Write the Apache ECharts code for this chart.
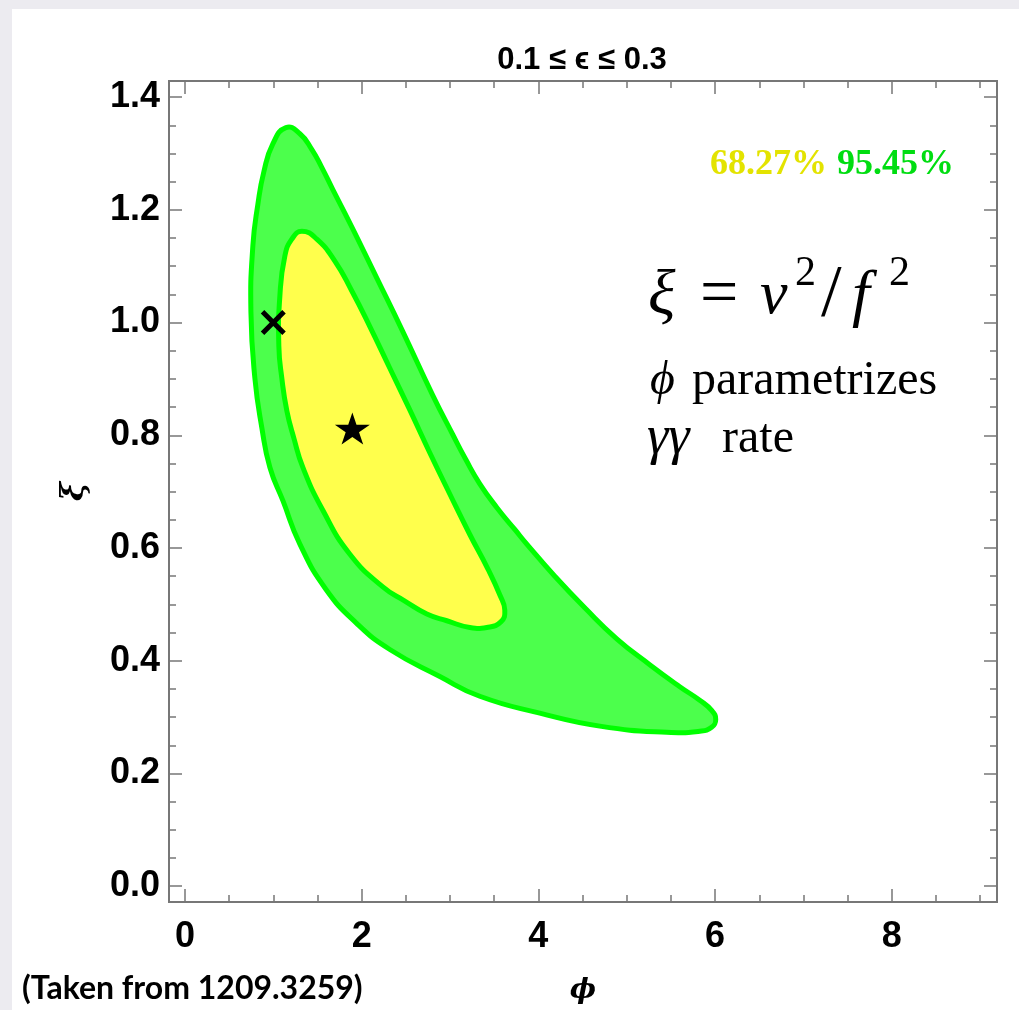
<!DOCTYPE html>
<html>
<head>
<meta charset="utf-8">
<script src="https://cdn.jsdelivr.net/npm/echarts@6/dist/echarts.min.js"></script>
<style>
html,body{margin:0;padding:0;background:#ecebf0;}
#chart{position:absolute;left:0;top:0;width:1019px;height:1010px;}
</style>
</head>
<body>
<div id="chart"></div>
<script>
// ---- data ----
const xMajorTicks = [0, 2, 4, 6, 8];
const xMinorTicks = [0, 0.5, 1, 1.5, 2, 2.5, 3, 3.5, 4, 4.5, 5, 5.5, 6, 6.5, 7, 7.5, 8, 8.5, 9];
const yMajorTicks = [0, 0.2, 0.4, 0.6, 0.8, 1.0, 1.2, 1.4];
const yMinorTicks = [0, 0.05, 0.1, 0.15, 0.2, 0.25, 0.3, 0.35, 0.4, 0.45, 0.5, 0.55, 0.6, 0.65, 0.7,
                     0.75, 0.8, 0.85, 0.9, 0.95, 1.0, 1.05, 1.1, 1.15, 1.2, 1.25, 1.3, 1.35, 1.4];

// 95.45% contour (phi, xi)
const contour95 = [
  [1.143, 1.346], [1.301, 1.335], [1.437, 1.307], [1.550, 1.275], [1.674, 1.236], [1.810, 1.194],
  [1.957, 1.148], [2.172, 1.079], [2.466, 0.984], [2.805, 0.871], [3.032, 0.801], [3.179, 0.757],
  [3.337, 0.714], [3.529, 0.672], [3.733, 0.633], [3.869, 0.607], [4.186, 0.550], [4.525, 0.494],
  [4.887, 0.439], [5.260, 0.393], [5.600, 0.354], [5.826, 0.330], [5.961, 0.312], [6.007, 0.296],
  [5.961, 0.282], [5.826, 0.275], [5.452, 0.273], [4.695, 0.284], [4.016, 0.307], [3.337, 0.337],
  [2.885, 0.372], [2.319, 0.420], [1.946, 0.466], [1.595, 0.527], [1.301, 0.607], [1.109, 0.684],
  [0.962, 0.743], [0.871, 0.813], [0.792, 0.901], [0.747, 1.019], [0.769, 1.136], [0.826, 1.210],
  [0.894, 1.268], [0.995, 1.317]
];
// 68.27% contour (phi, xi)
const contour68 = [
  [1.324, 1.162], [1.493, 1.148], [1.697, 1.109], [1.889, 1.056], [2.093, 0.993], [2.319, 0.919],
  [2.545, 0.845], [2.771, 0.769], [3.000, 0.695], [3.224, 0.624], [3.428, 0.563], [3.563, 0.517],
  [3.620, 0.490], [3.575, 0.469], [3.416, 0.459], [3.224, 0.459], [2.964, 0.471], [2.738, 0.483],
  [2.489, 0.506], [2.240, 0.531], [1.867, 0.589], [1.561, 0.667], [1.335, 0.743], [1.233, 0.795],
  [1.154, 0.843], [1.097, 0.901], [1.063, 0.959], [1.075, 1.048], [1.131, 1.118], [1.210, 1.148]
];
const smPoint = [[1.0, 1.0]];
const bestFit = [[1.895, 0.812]];

const titleText = '0.1 \u2264 \u03F5 \u2264 0.3';
const legend68 = '68.27%';
const legend95 = '95.45%';
const sourceNote = '(Taken from 1209.3259)';

// ---- chart ----
const X_MIN = -0.18, X_MAX = 9.19, Y_MIN = -0.028, Y_MAX = 1.4286;
const AXIS_COLOR = '#777777';
const labelFont = { fontFamily: 'Liberation Sans', fontWeight: 'bold', fontSize: 36, color: '#000' };

function xAxisDef(pos, ticks, len, withLabel) {
  return {
    type: 'value', position: pos, min: X_MIN, max: X_MAX,
    axisLine: { show: true, onZero: false, lineStyle: { color: AXIS_COLOR, width: 2 } },
    axisTick: { show: true, inside: true, length: len, customValues: ticks,
                lineStyle: { color: AXIS_COLOR, width: 1.5 } },
    axisLabel: withLabel ? Object.assign({ show: true, customValues: xMajorTicks, margin: 17,
                formatter: v => String(Math.round(v)) }, labelFont) : { show: false },
    splitLine: { show: false },
    name: withLabel ? '\u03D5' : '',
    nameLocation: 'middle', nameGap: 75,
    nameTextStyle: { fontFamily: 'DejaVu Serif', fontStyle: 'italic', fontWeight: 'bold', fontSize: 28, color: '#000' }
  };
}
function yAxisDef(pos, ticks, len, withLabel) {
  return {
    type: 'value', position: pos, min: Y_MIN, max: Y_MAX,
    axisLine: { show: true, onZero: false, lineStyle: { color: AXIS_COLOR, width: 2 } },
    axisTick: { show: true, inside: true, length: len, customValues: ticks,
                lineStyle: { color: AXIS_COLOR, width: 1.5 } },
    axisLabel: withLabel ? Object.assign({ show: true, customValues: yMajorTicks, margin: 9,
                formatter: v => v.toFixed(1) }, labelFont) : { show: false },
    splitLine: { show: false },
    name: withLabel ? '\u03BE' : '',
    nameLocation: 'middle', nameGap: 78, nameRotate: 90,
    nameTextStyle: { fontFamily: 'DejaVu Serif', fontStyle: 'italic', fontWeight: 'bold', fontSize: 32, color: '#000' }
  };
}

function polygonRenderer(pts, fill) {
  return function (params, api) {
    if (params.dataIndex !== 0) return null;
    const points = pts.map(p => api.coord(p));
    return {
      type: 'polygon',
      shape: { points: points, smooth: 0.5 },
      style: { fill: fill, stroke: '#00ff00', lineWidth: 5, lineJoin: 'round' }
    };
  };
}

const X_PATH = 'path://M14,0 L50,36 L86,0 L100,14 L64,50 L100,86 L86,100 L50,64 L14,100 L0,86 L36,50 L0,14 Z';
const STAR_PATH = 'path://M100,0 L122.45,69.1 L195.1,69.1 L136.3,111.8 L158.8,180.9 L100,138.2 L41.2,180.9 L63.7,111.8 L4.9,69.1 L77.55,69.1 Z';

function txt(x, y, text, font, fill) {
  return { type: 'text', x: x, y: y, style: { text: text, font: font, fill: fill || '#000', textAlign: 'left', textVerticalAlign: 'middle' } };
}

const chart = echarts.init(document.getElementById('chart'), null, { renderer: 'canvas' });
chart.setOption({
  backgroundColor: 'transparent',
  animation: false,
  grid: { left: 169, right: 22, top: 81, bottom: 103, containLabel: false },
  xAxis: [
    xAxisDef('bottom', xMajorTicks, 13, true),
    xAxisDef('bottom', xMinorTicks, 7, false),
    xAxisDef('top', xMajorTicks, 13, false),
    xAxisDef('top', xMinorTicks, 7, false)
  ],
  yAxis: [
    yAxisDef('left', yMajorTicks, 13, true),
    yAxisDef('left', yMinorTicks, 7, false),
    yAxisDef('right', yMajorTicks, 13, false),
    yAxisDef('right', yMinorTicks, 7, false)
  ],
  graphic: [
    { type: 'rect', z: -10, silent: true, shape: { x: 12, y: 9, width: 1019, height: 1010 }, style: { fill: '#ffffff' } },
    { type: 'text', x: 582, y: 60, style: { text: titleText, font: 'bold 31px "Liberation Sans"', fill: '#000', textAlign: 'center', textVerticalAlign: 'middle' } },
    txt(710, 165, legend68, 'bold 36px "Liberation Serif"', '#e3e300'),
    txt(837, 165, legend95, 'bold 36px "Liberation Serif"', '#00dd11'),
    // xi = v^2 / f^2
    txt(648, 297, '\u03BE', 'italic 64px "Liberation Serif"'),
    txt(700, 296, '=', '68px "Liberation Serif"'),
    txt(760, 297, 'v', 'italic 62px "Liberation Serif"'),
    txt(795, 274, '2', '42px "Liberation Serif"'),
    txt(821, 297, '/', '74px "Liberation Serif"'),
    txt(852, 297, 'f', 'italic 64px "Liberation Serif"'),
    txt(889, 274, '2', '42px "Liberation Serif"'),
    // phi parametrizes
    txt(650, 381, '\u03D5', 'italic 48px "Liberation Serif"'),
    txt(692, 381, 'parametrizes', '48px "Liberation Serif"'),
    // gamma gamma rate
    txt(647, 439, '\u03B3\u03B3', 'italic 54px "Liberation Serif"'),
    txt(722, 439, 'rate', '48px "Liberation Serif"'),
    // source note
    txt(22, 989, sourceNote, 'bold 32px Lato')
  ],
  series: [
    { type: 'custom', name: '95.45%', xAxisIndex: 0, yAxisIndex: 0, data: contour95, clip: false,
      renderItem: polygonRenderer(contour95, '#4cff4c'), z: 2 },
    { type: 'custom', name: '68.27%', xAxisIndex: 0, yAxisIndex: 0, data: contour68, clip: false,
      renderItem: polygonRenderer(contour68, '#ffff4c'), z: 3 },
    { type: 'scatter', name: 'SM', xAxisIndex: 0, yAxisIndex: 0, data: smPoint, symbol: X_PATH,
      symbolSize: [25, 25], itemStyle: { color: '#000', opacity: 1 }, z: 5 },
    { type: 'scatter', name: 'best fit', xAxisIndex: 0, yAxisIndex: 0, data: bestFit, symbol: STAR_PATH,
      symbolSize: [35, 32], itemStyle: { color: '#000', opacity: 1 }, z: 5 }
  ]
});
</script>
</body>
</html>
